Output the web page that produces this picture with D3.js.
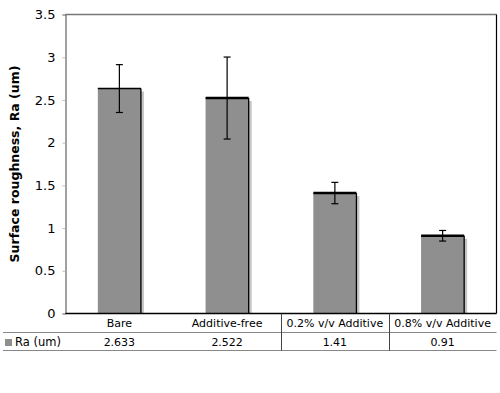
<!DOCTYPE html>
<html><head><meta charset="utf-8">
<script src="https://cdn.jsdelivr.net/npm/d3@7"></script>
<style>body{margin:0;background:#fff}svg{display:block;font-family:Verdana,"DejaVu Sans",sans-serif}</style>
</head><body>
<svg id="c" width="500" height="393"></svg>
<script>
const categories = ["Bare", "Additive-free", "0.2% v/v Additive", "0.8% v/v Additive"];
const values = [2.633, 2.522, 1.41, 0.91];
const valueLabels = ["2.633", "2.522", "1.41", "0.91"];
const errors = [0.28, 0.48, 0.125, 0.062];
const yTicks = [0, 0.5, 1, 1.5, 2, 2.5, 3, 3.5];
const seriesName = "Ra (um)";
const yTitle = "Surface roughness, Ra (um)";

const svg = d3.select("#c");
const L = 65.5, R = 496.5, T = 14.5, B = 313.5;
const x = d3.scaleBand().domain(categories).range([L, R]).paddingInner(0.6).paddingOuter(0.3);
const xc = d3.scaleBand().domain(categories).range([L, R]);
const y = d3.scaleLinear().domain([0, 3.5]).range([B, T]);

// plot frame
svg.append("line").attr("x1", L).attr("x2", R).attr("y1", T).attr("y2", T).attr("stroke", "#777").attr("stroke-width", 1.5);
svg.append("line").attr("x1", R).attr("x2", R).attr("y1", T).attr("y2", B).attr("stroke", "#000").attr("stroke-width", 1.2);

// y axis
const yAxis = d3.axisLeft(y).tickValues(yTicks).tickSize(3).tickPadding(7).tickFormat(d => String(d));
const ya = svg.append("g").attr("transform", `translate(${L},0)`).call(yAxis);
ya.select(".domain").attr("stroke", "#444");
ya.selectAll(".tick line").attr("stroke", "#bbb");
ya.selectAll(".tick text").attr("font-size", 13).attr("fill", "#000").attr("font-family", "Verdana,'DejaVu Sans',sans-serif");

svg.append("text").attr("transform", `translate(19,${(T + B) / 2}) rotate(-90)`)
  .attr("text-anchor", "middle").attr("font-size", 12.5).attr("font-weight", "bold").text(yTitle);

// bars
const g = svg.append("g");
categories.forEach((c, i) => {
  const x0 = x(c), w = x.bandwidth(), yt = y(values[i]);
  g.append("rect").attr("x", x0 + 3).attr("y", yt + 3).attr("width", w).attr("height", B - yt - 3).attr("fill", "#c4c4c4");
  g.append("rect").attr("x", x0).attr("y", yt).attr("width", w).attr("height", B - yt).attr("fill", "#8f8f8f");
  g.append("line").attr("x1", x0).attr("x2", x0 + w).attr("y1", yt).attr("y2", yt).attr("stroke", "#000").attr("stroke-width", i === 0 ? 1.5 : 2.5);
  g.append("line").attr("x1", x0 + w).attr("x2", x0 + w).attr("y1", yt).attr("y2", B).attr("stroke", "#000").attr("stroke-width", 1.3);
  // error bar
  const cx = x0 + w / 2, e1 = y(values[i] + errors[i]), e2 = y(values[i] - errors[i]);
  g.append("line").attr("x1", cx).attr("x2", cx).attr("y1", e1).attr("y2", e2).attr("stroke", "#000").attr("stroke-width", 1.2);
  [e1, e2].forEach(ey => g.append("line").attr("x1", cx - 3.5).attr("x2", cx + 3.5).attr("y1", ey).attr("y2", ey).attr("stroke", "#000").attr("stroke-width", 1.2));
});

// x axis baseline
svg.append("line").attr("x1", L).attr("x2", R).attr("y1", B).attr("y2", B).attr("stroke", "#000").attr("stroke-width", 1.3);

// data table
const row1 = 327, row2 = 346, hl1 = 332.5, hl2 = 350.5;
svg.append("line").attr("x1", 3).attr("x2", R).attr("y1", hl1).attr("y2", hl1).attr("stroke", "#888");
svg.append("line").attr("x1", 3).attr("x2", R).attr("y1", hl2).attr("y2", hl2).attr("stroke", "#888");
[2, 3].forEach(i => {
  const sx = Math.round(xc(categories[i])) + 0.5;
  svg.append("line").attr("x1", sx).attr("x2", sx).attr("y1", B).attr("y2", hl2).attr("stroke", "#444");
});
categories.forEach((c, i) => {
  const cx = xc(c) + xc.bandwidth() / 2;
  svg.append("text").attr("x", cx).attr("y", row1).attr("text-anchor", "middle").attr("font-size", 11).text(c);
  svg.append("text").attr("x", cx).attr("y", row2).attr("text-anchor", "middle").attr("font-size", 11).text(valueLabels[i]);
});
svg.append("rect").attr("x", 5).attr("y", 339).attr("width", 7).attr("height", 7).attr("fill", "#8f8f8f");
svg.append("text").attr("x", 15).attr("y", row2).attr("font-size", 11.5).text(seriesName);
</script>
</body></html>
